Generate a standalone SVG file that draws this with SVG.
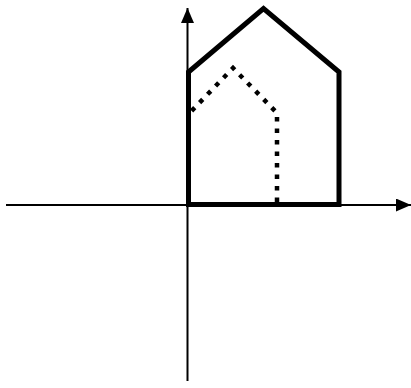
<svg xmlns="http://www.w3.org/2000/svg" width="411" height="388" viewBox="0 0 411 388">
<defs>
<marker id="arr" viewBox="0 0 15 13" refX="15" refY="6.5" markerWidth="15" markerHeight="13" markerUnits="userSpaceOnUse" orient="auto">
<path d="M0,0 L15,6.5 L0,13 z" fill="#000"/>
</marker>
<style>
.axis{stroke:#000;stroke-width:2;fill:none}
.solid{stroke:#000;stroke-width:5;fill:none;stroke-linejoin:miter}
.dot{stroke:#000;stroke-width:4.5;fill:none;stroke-dasharray:4.5 7}
</style>
</defs>
<g id="connectors">
<line class="axis" x1="6" y1="205" x2="411" y2="205" marker-end="url(#arr)"/>
<line class="axis" x1="187.5" y1="381" x2="187.5" y2="8" marker-end="url(#arr)"/>
</g>
<g id="house-solid">
<path class="solid" d="M188.5,204.5 L188.5,72 L263.5,8.5 L339,72 L339,204.5 Z"/>
</g>
<g id="house-dotted">
<path class="dot" d="M277,202 L277,113 L233,68 L190.5,112"/>
</g>
</svg>
